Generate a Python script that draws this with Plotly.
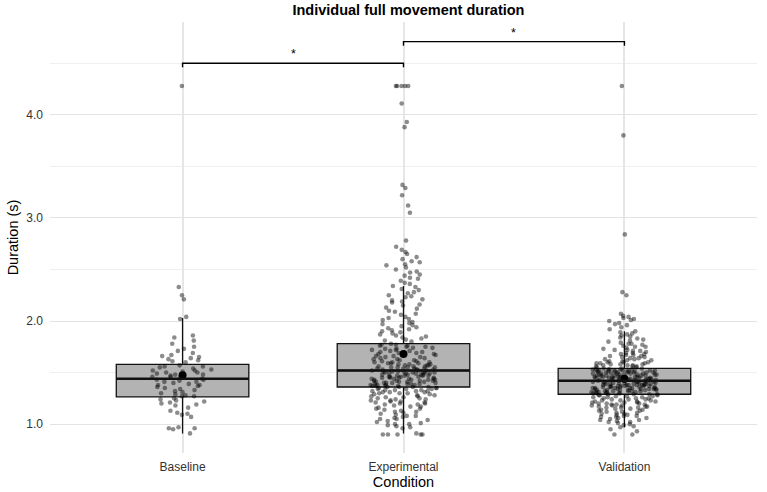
import plotly.graph_objects as go

categories = ["Baseline", "Experimental", "Validation"]

# Box statistics (seconds)
q1 = [1.265, 1.36, 1.29]
medians = [1.44, 1.52, 1.42]
q3 = [1.58, 1.78, 1.54]
lower_whisker = [0.91, 0.91, 0.97]
upper_whisker = [2.03, 2.34, 1.90]
means = [1.475, 1.68, 1.44]

baseline = [4.28, 2.33, 2.25, 2.21, 2.04, 2.02, 1.86, 1.84, 1.81, 1.78, 1.75, 1.73, 1.71, 1.69, 1.67,
            1.66, 1.65, 1.64, 1.63, 1.62, 1.61, 1.60,
            1.57, 1.56, 1.56, 1.55, 1.54, 1.53, 1.52, 1.52, 1.51, 1.50, 1.50, 1.49, 1.48, 1.48, 1.47,
            1.46, 1.46, 1.45, 1.44, 1.43, 1.43, 1.42, 1.41, 1.41, 1.40, 1.39, 1.38, 1.38, 1.37, 1.36,
            1.35, 1.34, 1.33, 1.32, 1.31, 1.30, 1.29, 1.28, 1.27, 1.27,
            1.25, 1.24, 1.23, 1.22, 1.21, 1.20, 1.19, 1.18, 1.16, 1.13, 1.11, 1.10, 1.09, 1.07,
            0.97, 0.96, 0.96, 0.95, 0.91]

experimental = [4.28, 4.28, 4.28, 4.28, 4.28, 4.11, 3.93, 3.88, 3.32, 3.29, 3.22, 3.12, 3.05, 2.78,
                2.72, 2.69, 2.67, 2.65, 2.62, 2.60,
                2.58, 2.57, 2.55, 2.54, 2.52, 2.50, 2.48, 2.47, 2.45, 2.44, 2.42, 2.41,
                2.39, 2.37, 2.36, 2.34, 2.33, 2.31, 2.30, 2.28, 2.27, 2.25, 2.24, 2.23, 2.21, 2.20,
                2.19, 2.18, 2.16, 2.15, 2.13, 2.12, 2.10, 2.09, 2.07, 2.06, 2.04, 2.03, 2.02, 2.01,
                1.99, 1.98, 1.97, 1.96, 1.95, 1.94, 1.93, 1.92, 1.91, 1.90, 1.89, 1.88, 1.87, 1.86,
                1.85, 1.84, 1.83, 1.82, 1.81, 1.80,
                1.78, 1.77, 1.77, 1.76, 1.76, 1.75, 1.75, 1.74, 1.74, 1.73, 1.73, 1.72, 1.72, 1.71,
                1.71, 1.70, 1.70, 1.69, 1.69, 1.68, 1.68, 1.67, 1.67, 1.66, 1.66, 1.65, 1.65, 1.64,
                1.64, 1.63, 1.63, 1.62, 1.62, 1.61, 1.61, 1.60, 1.60, 1.60, 1.59, 1.59, 1.59, 1.58,
                1.58, 1.58, 1.57, 1.57, 1.57, 1.56, 1.56, 1.56, 1.55, 1.55, 1.55, 1.55, 1.54, 1.54,
                1.54, 1.54, 1.53, 1.53, 1.53, 1.53, 1.52, 1.52, 1.52,
                1.51, 1.51, 1.51, 1.51, 1.50, 1.50, 1.50, 1.50, 1.50, 1.49, 1.49, 1.49, 1.49, 1.48,
                1.48, 1.48, 1.48, 1.47, 1.47, 1.47, 1.47, 1.46, 1.46, 1.46, 1.46, 1.45, 1.45, 1.45,
                1.45, 1.44, 1.44, 1.44, 1.44, 1.43, 1.43, 1.43, 1.43, 1.42, 1.42, 1.42, 1.42, 1.41,
                1.41, 1.41, 1.41, 1.40, 1.40, 1.40, 1.40, 1.39, 1.39, 1.39, 1.39, 1.38, 1.38, 1.38,
                1.38, 1.37, 1.37, 1.37, 1.37, 1.36, 1.36, 1.36, 1.36,
                1.35, 1.35, 1.35, 1.34, 1.34, 1.34, 1.33, 1.33, 1.33, 1.32, 1.32, 1.32, 1.31, 1.31,
                1.31, 1.30, 1.30, 1.30, 1.29, 1.29, 1.28, 1.28, 1.27, 1.27, 1.26, 1.26, 1.25, 1.25,
                1.24, 1.24, 1.23, 1.23, 1.22, 1.22, 1.21, 1.21, 1.20, 1.20, 1.19, 1.19,
                1.18, 1.17, 1.17, 1.16, 1.15, 1.15, 1.14, 1.13, 1.12, 1.12, 1.11, 1.10, 1.09, 1.08,
                1.08, 1.07, 1.06, 1.05, 1.05, 1.04, 1.03, 1.02, 1.01, 1.00, 1.00,
                0.99, 0.98, 0.97, 0.96, 0.91, 0.90, 0.90, 0.90, 0.90, 0.90]

validation = [4.28, 3.80, 2.84, 2.28, 2.25, 2.07, 2.05, 2.04, 2.03, 2.02, 2.01, 2.00, 1.98, 1.97,
              1.96, 1.94, 1.92,
              1.90, 1.89, 1.88, 1.87, 1.86, 1.85, 1.84, 1.83, 1.82, 1.81, 1.80, 1.79, 1.78, 1.78,
              1.77, 1.76, 1.75, 1.75, 1.74, 1.73, 1.72, 1.72, 1.71, 1.71, 1.70,
              1.69, 1.69, 1.68, 1.68, 1.67, 1.67, 1.66, 1.66, 1.65, 1.65, 1.64, 1.64, 1.63, 1.63,
              1.62, 1.62, 1.61, 1.61, 1.60, 1.60, 1.60, 1.59, 1.59, 1.59, 1.58, 1.58, 1.58, 1.57,
              1.57, 1.57, 1.56, 1.56, 1.56, 1.55, 1.55,
              1.54, 1.54, 1.54, 1.53, 1.53, 1.53, 1.53, 1.53, 1.53, 1.52, 1.52, 1.52, 1.52, 1.52,
              1.52, 1.51, 1.51, 1.51, 1.51, 1.51, 1.51, 1.50, 1.50, 1.50, 1.50, 1.50, 1.50, 1.49,
              1.49, 1.49, 1.49, 1.49, 1.49, 1.48, 1.48, 1.48, 1.48, 1.48, 1.48, 1.47, 1.47, 1.47,
              1.47, 1.47, 1.47, 1.46, 1.46, 1.46, 1.46, 1.46, 1.46, 1.45, 1.45, 1.45, 1.45, 1.45,
              1.45, 1.44, 1.44, 1.44, 1.44, 1.44, 1.44, 1.43, 1.43, 1.43, 1.43, 1.43, 1.43, 1.42,
              1.42, 1.42, 1.42, 1.42,
              1.41, 1.41, 1.41, 1.41, 1.41, 1.41, 1.40, 1.40, 1.40, 1.40, 1.40, 1.40, 1.39, 1.39,
              1.39, 1.39, 1.39, 1.39, 1.38, 1.38, 1.38, 1.38, 1.38, 1.38, 1.37, 1.37, 1.37, 1.37,
              1.37, 1.37, 1.36, 1.36, 1.36, 1.36, 1.36, 1.36, 1.35, 1.35, 1.35, 1.35, 1.35, 1.35,
              1.34, 1.34, 1.34, 1.34, 1.34, 1.34, 1.33, 1.33, 1.33, 1.33, 1.33, 1.33, 1.32, 1.32,
              1.32, 1.32, 1.32, 1.31, 1.31, 1.31, 1.31, 1.31, 1.30, 1.30, 1.30, 1.30, 1.30, 1.29,
              1.29, 1.29, 1.29,
              1.28, 1.28, 1.28, 1.27, 1.27, 1.27, 1.26, 1.26, 1.26, 1.25, 1.25, 1.25, 1.24, 1.24,
              1.24, 1.23, 1.23, 1.23, 1.22, 1.22, 1.22, 1.21, 1.21, 1.21, 1.20, 1.20, 1.20, 1.19,
              1.19, 1.19, 1.18, 1.18, 1.18, 1.17, 1.17, 1.17, 1.16, 1.16, 1.16, 1.15,
              1.15, 1.14, 1.14, 1.13, 1.13, 1.12, 1.12, 1.11, 1.11, 1.10, 1.10, 1.09, 1.09, 1.08,
              1.08, 1.07, 1.07, 1.06, 1.06, 1.05, 1.04, 1.04, 1.03, 1.02, 1.02, 1.01, 1.00, 0.99,
              0.98, 0.97,
              0.95, 0.93, 0.90, 0.90]

points_by_condition = [baseline, experimental, validation]

# significance brackets: (left, right, height, label)
comparisons = [("Baseline", "Experimental", 4.50, "*"),
               ("Experimental", "Validation", 4.71, "*")]

FONT = "Liberation Sans, Arial, Helvetica, sans-serif"
BOX_W = 0.6
TICK_DROP = 0.04

fig = go.Figure()

fig.add_trace(go.Box(
    x=categories, q1=q1, median=medians, q3=q3,
    lowerfence=lower_whisker, upperfence=upper_whisker,
    boxpoints=False, width=BOX_W, whiskerwidth=0,
    fillcolor="#b3b3b3", line=dict(color="#111111", width=1.3),
    hoverinfo="skip", showlegend=False,
))

for cat, vals in zip(categories, points_by_condition):
    fig.add_trace(go.Box(
        x=[cat] * len(vals), y=vals,
        boxpoints="all", jitter=0.5, pointpos=0, width=BOX_W,
        fillcolor="rgba(0,0,0,0)", line=dict(color="rgba(0,0,0,0)", width=0),
        marker=dict(color="rgba(0,0,0,0.45)", size=4.6, line=dict(width=0)),
        hoverinfo="y", showlegend=False,
    ))

fig.add_trace(go.Scatter(
    x=categories, y=means, mode="markers",
    marker=dict(color="black", size=8), showlegend=False, hoverinfo="y",
))

for left, right, h, label in comparisons:
    fig.add_trace(go.Scatter(
        x=[left, left, right, right], y=[h - TICK_DROP, h, h, h - TICK_DROP],
        mode="lines", line=dict(color="black", width=1.4),
        showlegend=False, hoverinfo="skip",
    ))
    i0, i1 = categories.index(left), categories.index(right)
    fig.add_annotation(x=(i0 + i1) / 2, y=h, xref="x", yref="y", text=label,
                       showarrow=False, yanchor="bottom", yshift=0,
                       font=dict(family=FONT, size=12.5, color="black"))

# thick median line (as in ggplot)
for i, m in enumerate(medians):
    fig.add_shape(type="line", xref="x", yref="y",
                  x0=i - BOX_W / 2, x1=i + BOX_W / 2, y0=m, y1=m,
                  line=dict(color="#111111", width=2.6), layer="above")

fig.update_layout(
    width=767, height=492,
    margin=dict(l=50, r=10, t=22, b=39),
    paper_bgcolor="white", plot_bgcolor="white",
    font=dict(family=FONT, color="#222222"),
    title=dict(text="<b>Individual full movement duration</b>", x=0.507, xref="paper",
               y=1 - 10 / 492, yref="container", yanchor="middle", xanchor="center",
               font=dict(family=FONT, size=14.5, color="black")),
    boxmode="overlay",
    showlegend=False,
)

fig.update_xaxes(
    type="category", categoryorder="array", categoryarray=categories,
    range=[-0.6, 2.6], showgrid=True, gridcolor="#e6e6e6", gridwidth=1.6,
    zeroline=False, showline=False, ticks="", ticklabelstandoff=5,
    tickfont=dict(family=FONT, size=12, color="#333333"),
    title=dict(text="Condition", font=dict(family=FONT, size=14.5, color="black"), standoff=3),
    automargin=False,
)

fig.update_yaxes(
    range=[0.72, 4.9], tick0=0, dtick=1, tickformat=".1f",
    showgrid=True, gridcolor="#e3e3e3", gridwidth=1.2,
    minor=dict(dtick=0.5, tick0=0, showgrid=True, gridcolor="#efefef", gridwidth=0.9),
    zeroline=False, showline=False, ticks="", ticklabelstandoff=6,
    tickfont=dict(family=FONT, size=12, color="#333333"),
    title=dict(text="Duration (s)", font=dict(family=FONT, size=14.5, color="black"), standoff=4),
    automargin=False,
)

fig.write_html("out.html")
